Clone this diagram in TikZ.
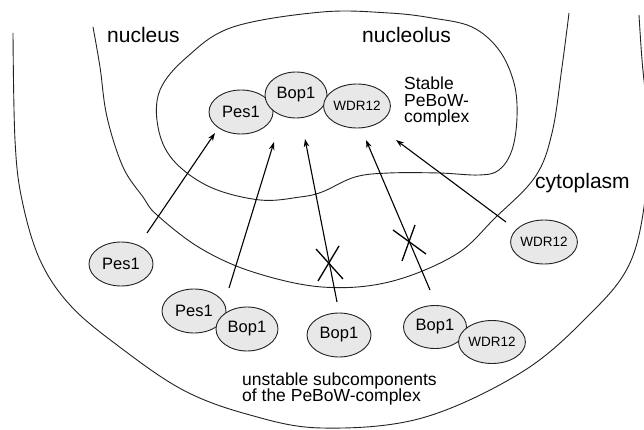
\documentclass[tikz,border=0pt]{standalone}
\usepackage{fontspec}
\setmainfont{Liberation Sans}
\usetikzlibrary{arrows.meta,shapes.geometric}
\definecolor{protfill}{HTML}{E8E8E8}
\definecolor{linecol}{HTML}{222222}
\begin{document}
\begin{tikzpicture}[x=1pt,y=-1pt,
  prot/.style={ellipse,draw=linecol,fill=protfill,line width=0.9pt,inner sep=0pt,
    minimum width=64pt,minimum height=44pt,font=\fontsize{16.5}{18}\selectfont},
  protsmall/.style={prot,font=\fontsize{13.5}{15}\selectfont},
  memb/.style={draw=linecol,line width=0.9pt},
  arr/.style={draw=black,line width=1.1pt,-{Stealth[length=8pt,width=5.5pt]}},
  crossline/.style={draw=black,line width=1.3pt},
  big/.style={font=\fontsize{21}{24}\selectfont,inner sep=0pt,anchor=base west},
  mid/.style={font=\fontsize{17.5}{20}\selectfont,inner sep=0pt,anchor=base west}
]
\useasboundingbox (0,0) rectangle (644,430);
\clip (0,0) rectangle (644,430);

% outer cell boundary
\draw[memb] plot[smooth,tension=0.6] coordinates {(13,33) (15,140) (22,200) (40,260) (70,305) (117,345) (183,390) (250,415) (322,428) (422,418) (522,372) (589,315) (629,265) (645,200) (648,130) (642,60) (639,15)};
% nucleus boundary
\draw[memb] plot[smooth,tension=0.6] coordinates {(93,27) (100,67) (107,117) (123,167) (143,197) (157,215) (200,248) (253,272) (322,287) (389,282) (455,255) (495,218) (535,177) (552,133) (562,67) (569,13)};
% nucleolus
\draw[memb] plot[smooth cycle,tension=0.6] coordinates {(322,12) (389,13) (432,18) (472,27) (499,50) (514,83) (517,117) (512,150) (499,170) (479,175) (439,173) (389,173) (355,177) (322,192) (300,197) (260,200) (210,187) (173,160) (158,127) (160,90) (187,57) (233,27)};

% labels
\node[big] (lnuc) at (107,43) {nucleus};
\node[big] (lnucl) at (362,43) {nucleolus};
\node[big] (lcyt) at (535,189) {cytoplasm};
\node[mid] (ls1) at (404,90) {Stable};
\node[mid] (ls2) at (404,106.5) {PeBoW-};
\node[mid] (ls3) at (404,123) {complex};
\node[mid] (lu1) at (242,385) {unstable subcomponents};
\node[mid] (lu2) at (242,401) {of the PeBoW-complex};

% stable complex
\node[prot] (cPes) at (241,112) {Pes1};
\node[prot,minimum width=62pt,minimum height=46pt] (cBop) at (296,95) {Bop1};
\node[protsmall] (cWdr) at (357,106) {WDR12};

% unstable subcomponents
\node[prot] (uPes) at (121,264) {Pes1};
\node[prot] (pPes) at (194,311) {Pes1};
\node[prot,minimum width=62pt] (pBop) at (247,329) {Bop1};
\node[prot] (mBop) at (339,335) {Bop1};
\node[prot,minimum width=63pt,minimum height=43pt] (rBop) at (435,327) {Bop1};
\node[protsmall,minimum width=63pt,minimum height=43pt] (rWdr) at (492,342) {WDR12};
\node[protsmall,minimum width=63pt] (sWdr) at (544,242) {WDR12};

% arrow end points
\coordinate (a1s) at (147,233); \coordinate (a1e) at (215,133);
\coordinate (a2s) at (229,288); \coordinate (a2e) at (274,142);
\coordinate (a3s) at (337,302); \coordinate (a3e) at (305,139);
\coordinate (a4s) at (430,290); \coordinate (a4e) at (366,140);
\coordinate (a5s) at (506,222); \coordinate (a5e) at (396,140);

\draw[arr] (a1s) -- (a1e);
\draw[arr] (a2s) -- (a2e);
\draw[arr] (a3s) -- (a3e);
\draw[arr] (a4s) -- (a4e);
\draw[arr] (a5s) -- (a5e);

% crosses
\coordinate (x1a) at (316,249); \coordinate (x1b) at (343,279);
\coordinate (x1c) at (339,246); \coordinate (x1d) at (318,281);
\coordinate (x2a) at (393,230); \coordinate (x2b) at (426,254);
\coordinate (x2c) at (415,225); \coordinate (x2d) at (402,261);
\draw[crossline] (x1a) -- (x1b);
\draw[crossline] (x1c) -- (x1d);
\draw[crossline] (x2a) -- (x2b);
\draw[crossline] (x2c) -- (x2d);
\end{tikzpicture}
\end{document}
